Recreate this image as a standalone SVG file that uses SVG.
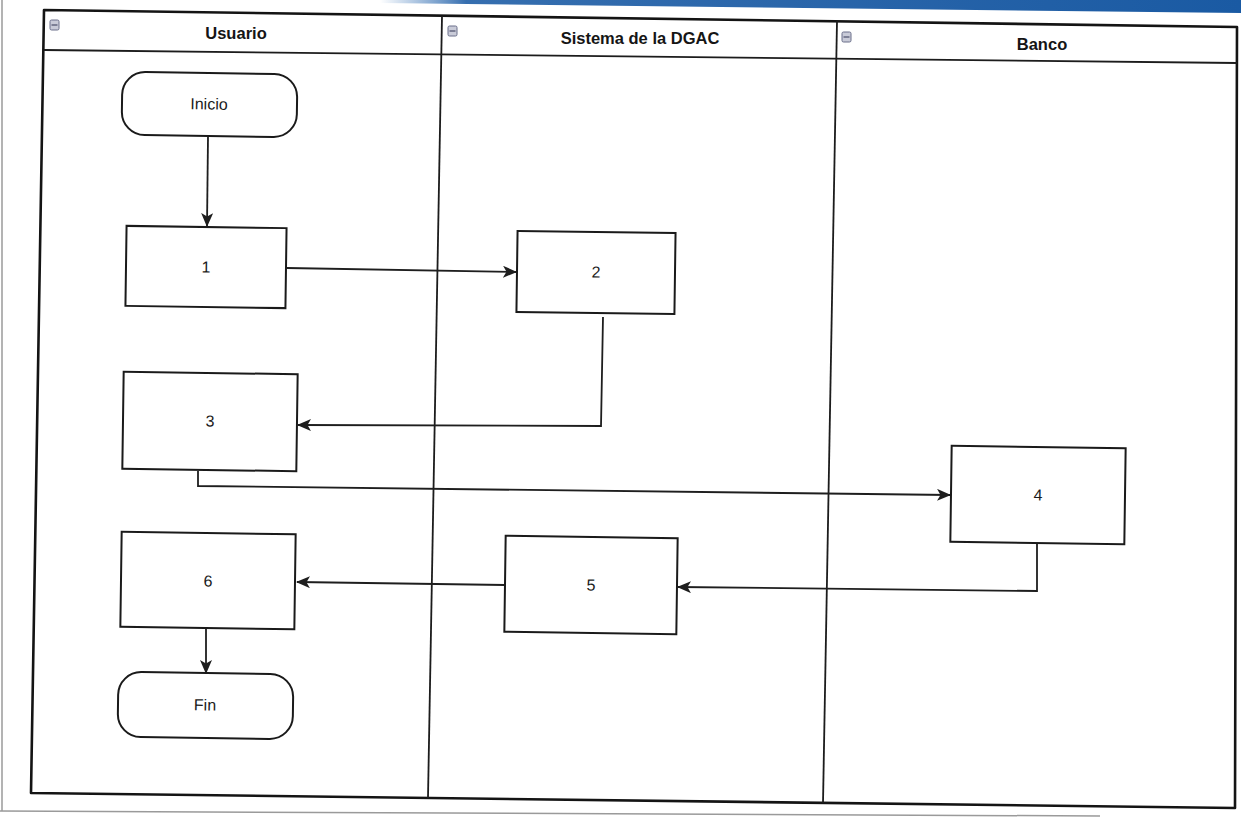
<svg xmlns="http://www.w3.org/2000/svg" width="1241" height="821" viewBox="0 0 1241 821">
  <style>
    .pool { fill: #ffffff; stroke: #141414; stroke-width: 2.6; stroke-linejoin: round; }
    .lane { stroke: #1c1c1c; stroke-width: 1.8; fill: none; }
    .hdr { font-family: "Liberation Sans", Arial, sans-serif; font-weight: bold; font-size: 16.5px; fill: #151515; text-anchor: middle; dominant-baseline: central; }
    .box { fill: #ffffff; stroke: #1a1a1a; stroke-width: 2; }
    .lbl { font-family: "Liberation Sans", Arial, sans-serif; font-size: 16px; fill: #1a1a1a; text-anchor: middle; dominant-baseline: central; }
    .conn { fill: none; stroke: #1e1e1e; stroke-width: 1.8; stroke-linejoin: miter; }
    .icon { fill: #c9cbd8; stroke: #6b6f8a; stroke-width: 1; }
    .paper { stroke: #9a9a9a; stroke-width: 1.5; fill: none; }
  </style>
  <defs>
    <marker id="arr" viewBox="0 0 14 12" refX="13" refY="6" markerWidth="14" markerHeight="12" markerUnits="userSpaceOnUse" orient="auto">
      <path d="M0,0 L14,6 L0,12 L3.5,6 Z" fill="#1e1e1e"/>
    </marker>
    <linearGradient id="blue" x1="0" y1="0" x2="1" y2="0">
      <stop offset="0" stop-color="#2a6bb5" stop-opacity="0"/>
      <stop offset="0.1" stop-color="#1f5ea6" stop-opacity="0.9"/>
      <stop offset="1" stop-color="#1a5aa3"/>
    </linearGradient>
  </defs>

  <rect x="0" y="0" width="1241" height="821" fill="#ffffff"/>

  <!-- scan artifacts: blue strip and paper edges -->
  <polygon points="380,0 1241,0 1241,13 380,3" fill="url(#blue)"/>
  <line class="paper" x1="2" y1="0" x2="2" y2="811"/>
  <line class="paper" x1="0" y1="811" x2="1100" y2="816"/>

  <!-- pool and lanes -->
  <g id="pool">
    <polygon class="pool" points="44,10 1237,27 1235,808 31,793"/>
    <line class="lane" x1="44" y1="50" x2="1237" y2="63"/>
    <line class="lane" x1="442" y1="16" x2="428" y2="798"/>
    <line class="lane" x1="837" y1="21" x2="823" y2="803"/>
  </g>
  <g id="lane-usuario">
    <rect class="icon" x="50" y="20" width="9" height="10" rx="1.5"/>
    <line x1="51.5" y1="25" x2="57.5" y2="25" stroke="#4a4e6a" stroke-width="1.2"/>
    <text class="hdr" x="236" y="33">Usuario</text>
  </g>
  <g id="lane-sistema">
    <rect class="icon" x="448" y="26" width="9" height="10" rx="1.5"/>
    <line x1="449.5" y1="31" x2="455.5" y2="31" stroke="#4a4e6a" stroke-width="1.2"/>
    <text class="hdr" x="640" y="38">Sistema de la DGAC</text>
  </g>
  <g id="lane-banco">
    <rect class="icon" x="842" y="32" width="9" height="10" rx="1.5"/>
    <line x1="843.5" y1="37" x2="849.5" y2="37" stroke="#4a4e6a" stroke-width="1.2"/>
    <text class="hdr" x="1042" y="44">Banco</text>
  </g>

  <!-- connectors -->
  <g id="connectors">
    <path class="conn" d="M208,137 L207,226" marker-end="url(#arr)"/>
    <path class="conn" d="M287,268 L516,272" marker-end="url(#arr)"/>
    <path class="conn" d="M603,317 L601,426 L298,425" marker-end="url(#arr)"/>
    <path class="conn" d="M198,471 L198,486 L950,495" marker-end="url(#arr)"/>
    <path class="conn" d="M1037,544 L1037,591 L678,587" marker-end="url(#arr)"/>
    <path class="conn" d="M505,585 L297,582" marker-end="url(#arr)"/>
    <path class="conn" d="M206,629 L206,673" marker-end="url(#arr)"/>
  </g>

  <!-- nodes -->
  <g id="inicio" transform="rotate(0.8 209 104)">
    <rect class="box" x="122" y="73" width="175" height="63" rx="23"/>
    <text class="lbl" x="209" y="104">Inicio</text>
  </g>
  <g id="n1" transform="rotate(0.8 206 267)">
    <rect class="box" x="126" y="227" width="160" height="80"/>
    <text class="lbl" x="206" y="267">1</text>
  </g>
  <g id="n2" transform="rotate(0.8 596 272)">
    <rect class="box" x="517" y="232" width="158" height="81"/>
    <text class="lbl" x="596" y="272">2</text>
  </g>
  <g id="n3" transform="rotate(0.8 210 421)">
    <rect class="box" x="123" y="373" width="174" height="97"/>
    <text class="lbl" x="210" y="421">3</text>
  </g>
  <g id="n4" transform="rotate(0.8 1038 495)">
    <rect class="box" x="951" y="447" width="174" height="96"/>
    <text class="lbl" x="1038" y="495">4</text>
  </g>
  <g id="n5" transform="rotate(0.8 591 585)">
    <rect class="box" x="505" y="537" width="172" height="96"/>
    <text class="lbl" x="591" y="585">5</text>
  </g>
  <g id="n6" transform="rotate(0.8 208 581)">
    <rect class="box" x="121" y="533" width="174" height="95"/>
    <text class="lbl" x="208" y="581">6</text>
  </g>
  <g id="fin" transform="rotate(0.8 205 705)">
    <rect class="box" x="118" y="673" width="175" height="65" rx="23"/>
    <text class="lbl" x="205" y="705">Fin</text>
  </g>
</svg>
